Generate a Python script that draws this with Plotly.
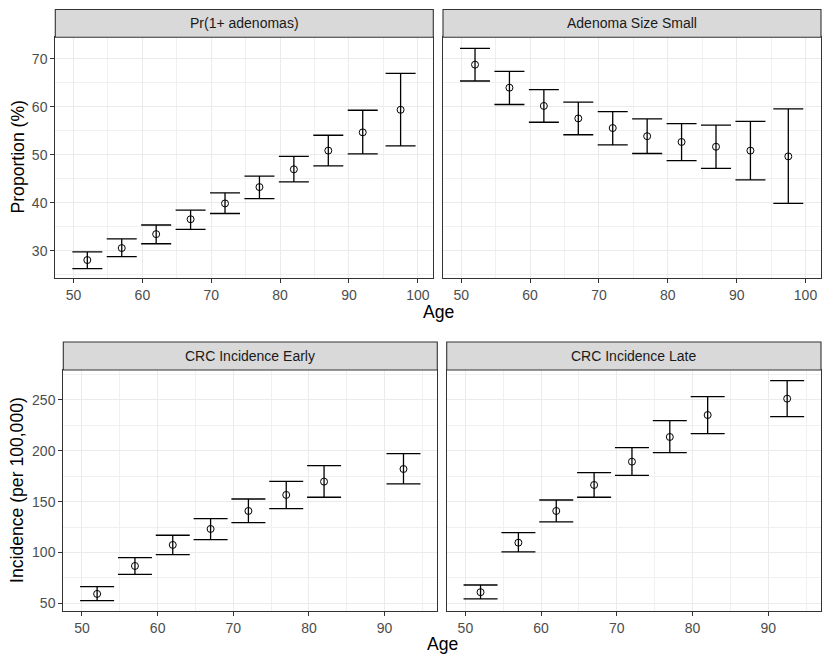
import plotly.graph_objects as go

# ---------------- data ----------------
age_top = [52, 57, 62, 67, 72, 77, 82, 87, 92, 97.5]
adenoma_mean = [28.1, 30.6, 33.5, 36.6, 39.9, 43.3, 47.0, 50.9, 54.7, 59.4]
adenoma_low = [26.3, 28.8, 31.5, 34.5, 37.8, 40.9, 44.4, 47.7, 50.2, 51.9]
adenoma_high = [29.8, 32.5, 35.4, 38.5, 42.1, 45.6, 49.7, 54.1, 59.3, 67.0]

small_mean = [68.8, 64.0, 60.2, 57.6, 55.6, 53.9, 52.7, 51.7, 50.9, 49.7]
small_low = [65.4, 60.5, 56.8, 54.2, 52.1, 50.3, 48.8, 47.2, 44.8, 39.9]
small_high = [72.2, 67.4, 63.6, 61.0, 59.0, 57.5, 56.5, 56.2, 57.0, 59.6]

age_bottom = [52, 57, 62, 67, 72, 77, 82, 92.5]
early_mean = [59.2, 86.7, 107.4, 123.1, 140.8, 156.6, 169.7, 182.1]
early_low = [52.6, 78.5, 97.8, 112.6, 129.3, 143.1, 154.3, 167.4]
early_high = [66.4, 94.9, 116.9, 133.3, 152.6, 170.0, 185.4, 197.2]

late_mean = [60.9, 109.6, 140.8, 166.4, 189.3, 213.6, 235.2, 251.3]
late_low = [54.3, 100.5, 130.0, 154.3, 175.9, 198.2, 216.9, 233.6]
late_high = [68.0, 119.5, 151.6, 178.5, 203.1, 229.6, 253.3, 269.0]

panel_titles = ["Pr(1+ adenomas)", "Adenoma Size Small",
                "CRC Incidence Early", "CRC Incidence Late"]

# ---------------- layout geometry ----------------
OFF = 8  # page body margin
W, H = 830 - OFF, 664 - OFF
def px(x):
    return (x - OFF) / W
def py(y):
    return 1 - (y - OFF) / H

dom = {
    1: ([px(55.3), px(433.3)], [py(278.3), py(37.3)], py(9.5)),
    2: ([px(443), px(821)], [py(278.3), py(37.3)], py(9.5)),
    3: ([px(63.3), px(437.3)], [py(611), py(370)], py(342)),
    4: ([px(446.7), px(821)], [py(611), py(370)], py(342)),
}

series = [
    (age_top, adenoma_mean, adenoma_low, adenoma_high, 15),
    (age_top, small_mean, small_low, small_high, 15),
    (age_bottom, early_mean, early_low, early_high, 17),
    (age_bottom, late_mean, late_low, late_high, 17),
]

fig = go.Figure()
for i, (x, m, lo, hi, cap) in enumerate(series, start=1):
    fig.add_trace(go.Scatter(
        x=x, y=m, mode="markers",
        xaxis="x" if i == 1 else f"x{i}",
        yaxis="y" if i == 1 else f"y{i}",
        marker=dict(symbol="circle-open", size=7, color="black",
                    line=dict(width=1, color="black")),
        error_y=dict(type="data", symmetric=False,
                     array=[h - v for h, v in zip(hi, m)],
                     arrayminus=[v - l for v, l in zip(m, lo)],
                     color="black", thickness=1.3, width=cap),
        showlegend=False, hoverinfo="skip",
    ))

font_family = "Liberation Sans, Arial, sans-serif"
tickfont = dict(family=font_family, size=14, color="#4D4D4D")

common = dict(showline=True, linecolor="#333333", linewidth=1.1, mirror=True,
              ticks="outside", ticklen=4, tickcolor="#333333", tickwidth=1.1,
              showgrid=True, gridcolor="#EBEBEB", gridwidth=1.1,
              zeroline=False, tickfont=tickfont)

layout = dict(width=W, height=H, margin=dict(l=0, r=0, t=0, b=0),
              plot_bgcolor="white", paper_bgcolor="white",
              font=dict(family=font_family))

xr_top = [47.35, 102.25]
xr_bot = [47.53, 96.97]
yr_top = [24.3, 74.5]
yr_bot = [42.4, 279.5]

for i in range(1, 5):
    xd, yd, _ = dom[i]
    top = i <= 2
    xk = "xaxis" if i == 1 else f"xaxis{i}"
    yk = "yaxis" if i == 1 else f"yaxis{i}"
    layout[xk] = dict(common, domain=xd, range=xr_top if top else xr_bot,
                      anchor="y" if i == 1 else f"y{i}",
                      tick0=50, dtick=10,
                      minor=dict(dtick=5, showgrid=True, gridcolor="#F0F0F0",
                                 gridwidth=0.6, ticks=""))
    ydict = dict(common, domain=yd, range=yr_top if top else yr_bot,
                 anchor="x" if i == 1 else f"x{i}",
                 tick0=0, dtick=10 if top else 50,
                 minor=dict(dtick=5 if top else 25, showgrid=True,
                            gridcolor="#F0F0F0", gridwidth=0.6, ticks=""))
    if i in (2, 4):
        ydict.update(showticklabels=False, ticks="")
    layout[yk] = ydict

fig.update_layout(**layout)

# strips
for i in range(1, 5):
    xd, yd, stop = dom[i]
    fig.add_shape(type="rect", xref="paper", yref="paper",
                  x0=xd[0], x1=xd[1], y0=yd[1], y1=stop,
                  fillcolor="#D9D9D9", line=dict(color="#333333", width=1.1),
                  layer="above")
    fig.add_annotation(x=(xd[0] + xd[1]) / 2, y=(yd[1] + stop) / 2,
                       xref="paper", yref="paper", text=panel_titles[i - 1],
                       showarrow=False, xanchor="center", yanchor="middle",
                       font=dict(family=font_family, size=14, color="#1A1A1A"))

title_font = dict(family=font_family, size=17.6, color="black")
fig.add_annotation(x=px(438), y=py(312), xref="paper", yref="paper", text="Age",
                   showarrow=False, xanchor="center", yanchor="middle", font=title_font)
fig.add_annotation(x=px(442), y=py(644), xref="paper", yref="paper", text="Age",
                   showarrow=False, xanchor="center", yanchor="middle", font=title_font)
fig.add_annotation(x=px(17), y=py(157.5), xref="paper", yref="paper",
                   text="Proportion (%)", textangle=-90,
                   showarrow=False, xanchor="center", yanchor="middle", font=title_font)
fig.add_annotation(x=px(17), y=py(490), xref="paper", yref="paper",
                   text="Incidence (per 100,000)", textangle=-90,
                   showarrow=False, xanchor="center", yanchor="middle", font=title_font)

fig.write_html("out.html")
